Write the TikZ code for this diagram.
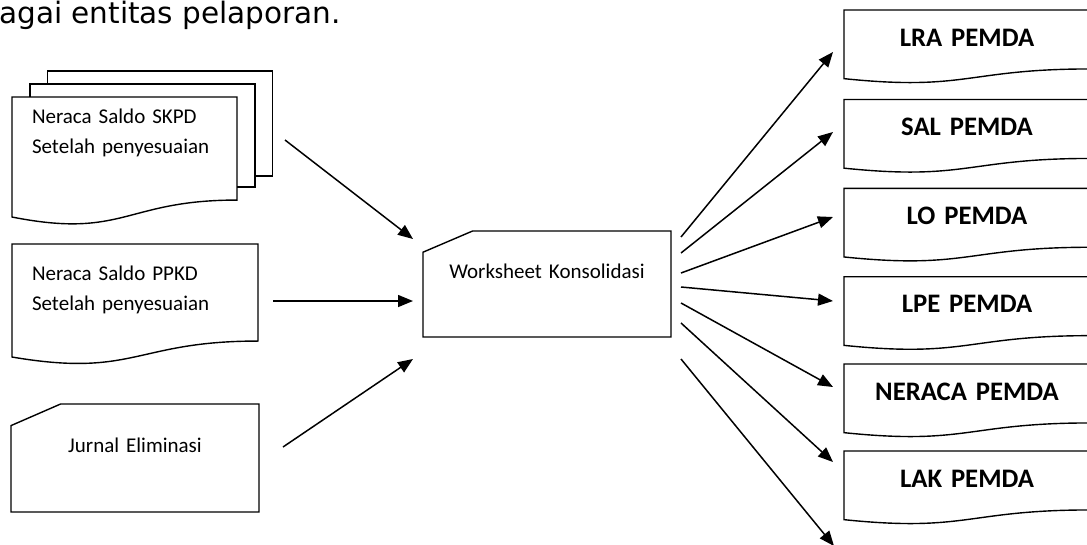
\documentclass[tikz,border=0pt]{standalone}
\usepackage{fontspec}
\setmainfont{Carlito}
\newfontfamily\captionfont{DejaVu Sans}
\usepackage{tikz}
\usetikzlibrary{arrows.meta, calc}
\tikzset{
  docline/.style={draw=black, line width=1.4pt, line join=miter},
  flowarrow/.style={
    -{Triangle[length=15pt,width=12pt]}, line width=1.5pt
  },
  srcdoc/.style={
    anchor=north west, outer sep=0pt, inner xsep=20pt, align=left,
    font=\fontsize{21}{30}\selectfont, text height=14pt
  },
  cardbox/.style={
    anchor=north, outer sep=0pt, inner xsep=0pt, align=center,
    text width=248pt, font=\fontsize{21}{30}\selectfont, text height=14pt
  },
  outdoc/.style={
    anchor=north, outer sep=0pt, inner xsep=0pt, inner ysep=18pt,
    align=center, text width=246pt, text height=18pt,
    font=\bfseries\fontsize{26.7}{32}\selectfont
  },
}
% document outline: node name, full height
\newcommand{\docoutline}[2]{%
  \draw[docline] (#1.north west) -- (#1.north east)
    -- ($(#1.north east)+(0,{0.802*#2})$)
    .. controls ($(#1.north)+(0,{0.802*#2})$) and ($(#1.north)+(0,{1.107*#2})$)
    .. ($(#1.north west)+(0,{0.934*#2})$) -- cycle;}
% cut-corner card outline: node name, height
\newcommand{\cardoutline}[2]{%
  \draw[docline] ($(#1.north west)!0.2!(#1.north east)$) -- (#1.north east)
    -- ($(#1.north east)+(0,#2)$) -- ($(#1.north west)+(0,#2)$)
    -- ($(#1.north west)+(0,{0.2*#2})$) -- cycle;}

\begin{document}
\begin{tikzpicture}[x=1pt, y=-1pt]
  \useasboundingbox (0,0) rectangle (1087,544);

  % Caption line
  \node[font=\captionfont\fontsize{29.5}{36}\selectfont, anchor=base west,
    inner sep=0pt] (caption) at (-1,23.5) {agai entitas pelaporan.};

  % ---- Sources ----
  \node[srcdoc, text width=185pt, inner ysep=12.5pt] (skpd) at (12,97)
    {Neraca Saldo SKPD\\Setelah penyesuaian};
  % pages behind
  \draw[docline] ($(skpd.north west)+(35.5,-13)$) -- ($(skpd.north west)+(35.5,-26)$)
    -- ($(skpd.north east)+(35.5,-26)$) -- ($(skpd.north east)+(35.5,79)$)
    -- ($(skpd.north east)+(18,79)$);
  \draw[docline] ($(skpd.north west)+(18,0)$) -- ($(skpd.north west)+(18,-13)$)
    -- ($(skpd.north east)+(18,-13)$) -- ($(skpd.north east)+(18,90)$)
    -- ($(skpd.north east)+(0,90)$);
  \docoutline{skpd}{128.5}

  \node[srcdoc, text width=206pt, inner ysep=22.5pt] (ppkd) at (12,244)
    {Neraca Saldo PPKD\\Setelah penyesuaian};
  \docoutline{ppkd}{121}

  \node[cardbox, inner ysep=34.3pt] (jurnal) at (135,404) {Jurnal Eliminasi};
  \cardoutline{jurnal}{108}

  % ---- Worksheet ----
  \node[cardbox, inner ysep=33.3pt] (ws) at (547,231) {Worksheet Konsolidasi};
  \cardoutline{ws}{106}

  % ---- Reports ----
  \node[outdoc] (lra) at (967,10) {LRA PEMDA};
  \docoutline{lra}{73.5}
  \node[outdoc] (sal) at (967,99.5) {SAL PEMDA};
  \docoutline{sal}{73.5}
  \node[outdoc] (lo) at (967,188.3) {LO PEMDA};
  \docoutline{lo}{73.5}
  \node[outdoc] (lpe) at (967,276.7) {LPE PEMDA};
  \docoutline{lpe}{73.5}
  \node[outdoc] (neraca) at (967,364) {NERACA PEMDA};
  \docoutline{neraca}{73.5}
  \node[outdoc] (lak) at (967,451) {LAK PEMDA};
  \docoutline{lak}{73.5}

  % Arrow ends
  \coordinate (skpd-out) at (285,140);
  \coordinate (ppkd-out) at (273,301);
  \coordinate (jurnal-out) at (283,447);
  \coordinate (ws-in1) at (413,239);
  \coordinate (ws-in2) at (413,301);
  \coordinate (ws-in3) at (413,359);

  \coordinate (ws-lra) at (681,237);
  \coordinate (ws-sal) at (681,253);
  \coordinate (ws-lo) at (681,273);
  \coordinate (ws-lpe) at (681,287);
  \coordinate (ws-neraca) at (681,303);
  \coordinate (ws-lak) at (681,323);
  \coordinate (ws-next) at (681,359);
  \coordinate (lra-in) at (833,52);
  \coordinate (sal-in) at (833,132);
  \coordinate (lo-in) at (833,217);
  \coordinate (lpe-in) at (833,301);
  \coordinate (neraca-in) at (833,387);
  \coordinate (lak-in) at (833,462);
  \coordinate (next-in) at (834,546);

  % Inputs into worksheet
  \draw[flowarrow] (skpd-out) -- (ws-in1);
  \draw[flowarrow] (ppkd-out) -- (ws-in2);
  \draw[flowarrow] (jurnal-out) -- (ws-in3);

  % Worksheet to reports
  \draw[flowarrow] (ws-lra) -- (lra-in);
  \draw[flowarrow] (ws-sal) -- (sal-in);
  \draw[flowarrow] (ws-lo) -- (lo-in);
  \draw[flowarrow] (ws-lpe) -- (lpe-in);
  \draw[flowarrow] (ws-neraca) -- (neraca-in);
  \draw[flowarrow] (ws-lak) -- (lak-in);
  \draw[flowarrow] (ws-next) -- (next-in);
\end{tikzpicture}
\end{document}
